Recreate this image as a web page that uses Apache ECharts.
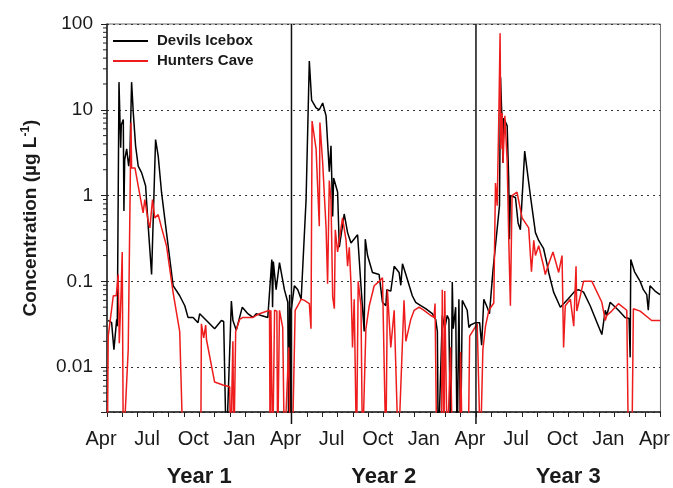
<!DOCTYPE html>
<html>
<head>
<meta charset="utf-8">
<script src="https://cdn.jsdelivr.net/npm/echarts@6/dist/echarts.min.js"></script>
<style>
html,body{margin:0;padding:0;background:#fff;}
#chart{width:673px;height:488px;}
</style>
</head>
<body>
<div id="chart"></div>
<script>
// ---- data ----
var DROP = 0.001; // non-detect, plotted below the axis minimum
var seriesNames = ['Devils Icebox', 'Hunters Cave'];
var xTickLabels = ['Apr','Jul','Oct','Jan','Apr','Jul','Oct','Jan','Apr','Jul','Oct','Jan','Apr'];
var yearLabels = ['Year 1','Year 2','Year 3'];
var yearDividers = [12, 24];
var yMinorTicks = [0.004,0.005,0.006,0.007,0.008,0.009,
  0.02,0.03,0.04,0.05,0.06,0.07,0.08,0.09,
  0.2,0.3,0.4,0.5,0.6,0.7,0.8,0.9,
  2,3,4,5,6,7,8,9,
  20,30,40,50,60,70,80,90];

// months since April 1 of Year 1
var devilsMonths = [0.08,0.30,0.45,0.63,0.67,0.78,0.89,0.93,1.06,1.10,1.15,1.28,1.41,1.49,1.60,1.71,1.86,2.03,2.25,2.35,2.51,2.68,2.90,3.16,3.33,3.55,3.87,4.30,4.73,5.06,5.27,5.60,5.92,6.03,6.47,7.00,7.44,7.59,7.76,8.09,8.19,8.41,8.80,9.16,9.49,9.71,10.03,10.46,10.72,10.77,10.82,11.00,11.22,11.54,11.76,11.82,11.88,11.94,11.98,
  12.19,12.41,12.63,12.95,13.16,13.31,13.60,13.81,14.03,14.25,14.46,14.57,14.68,14.74,15.00,15.11,15.43,15.65,15.87,16.30,16.52,16.73,16.80,16.95,17.27,17.70,17.92,18.14,18.20,18.46,18.68,19.00,19.11,19.22,19.44,19.86,20.08,20.41,20.73,21.16,21.38,21.49,21.55,21.81,21.97,22.13,22.24,22.35,22.46,22.52,22.57,22.68,22.78,22.89,23.00,23.11,23.43,23.54,23.65,23.97,
  24.24,24.37,24.51,24.73,24.88,25.10,25.53,25.60,25.66,25.70,25.75,25.81,26.03,26.13,26.18,26.24,26.35,26.57,26.74,26.89,27.17,27.54,27.87,28.08,28.40,28.62,28.73,29.05,29.49,30.02,30.46,30.67,31.00,31.43,31.97,32.19,32.41,32.51,32.73,33.27,33.70,33.96,34.03,34.07,34.31,34.68,34.89,35.11,35.21,35.32,35.65,35.97];
var devilsValues = [0.035,0.033,0.016,0.036,0.030,21,3.6,6.7,7.7,0.66,2.6,3.5,2.2,3.0,21,9.2,3.8,2.2,1.85,1.9,1.3,0.44,0.12,4.5,2.9,1.08,0.37,0.089,0.068,0.052,0.038,0.038,0.033,0.042,0.035,0.028,0.035,0.034,DROP,0.059,0.035,0.027,0.05,0.042,0.038,0.042,0.04,0.038,0.18,0.05,0.17,0.08,0.165,0.08,0.057,DROP,0.07,DROP,0.046,
  0.089,0.08,0.062,0.9,37,13,10.5,10,12,8.5,1.9,3.8,0.57,1.6,1.1,0.25,0.61,0.37,0.28,0.35,0.089,0.026,0.31,0.2,0.127,0.12,0.057,0.052,0.08,0.077,0.15,0.127,0.09,0.16,0.12,0.068,0.057,0.052,0.048,0.042,0.036,0.026,DROP,0.04,0.028,0.04,0.036,DROP,0.098,0.028,0.028,0.05,DROP,0.062,DROP,0.06,0.046,0.029,0.031,0.033,
  0.033,0.018,0.062,0.05,0.042,0.13,0.76,24,11,7.7,2.4,8,6.5,1.55,0.31,1.0,1.0,0.95,0.48,0.4,3.3,1.0,0.37,0.3,0.24,0.16,0.127,0.075,0.05,0.063,0.078,0.08,0.075,0.052,0.03,0.024,0.046,0.04,0.057,0.046,0.038,0.037,0.013,0.18,0.13,0.1,0.08,0.07,0.046,0.089,0.077,0.07];

var huntersMonths = [0.02,0.08,0.41,0.60,0.73,0.80,0.91,0.99,1.06,1.13,1.38,1.56,1.60,1.82,2.03,2.35,2.46,2.68,2.79,2.96,3.11,3.33,3.55,3.87,4.30,4.73,4.95,6.10,6.14,6.21,6.29,6.42,6.47,7.00,7.54,7.98,8.04,8.19,8.25,8.37,8.63,8.84,9.49,9.92,10.57,10.61,10.66,10.78,10.90,11.05,11.10,11.22,11.43,11.54,11.82,11.91,12.05,
  12.24,12.41,12.63,12.84,13.16,13.27,13.34,13.60,13.81,13.85,14.03,14.25,14.35,14.46,14.57,14.68,14.79,14.85,15.00,15.11,15.32,15.55,15.65,15.76,15.87,15.97,16.08,16.23,16.34,16.52,16.62,16.73,16.84,17.06,17.38,17.70,17.92,18.14,18.24,18.46,18.68,18.95,19.32,19.44,19.76,19.98,20.30,20.62,21.06,21.27,21.34,21.38,21.45,21.60,21.75,21.81,21.92,21.97,22.13,22.35,22.46,22.95,23.00,23.11,23.50,23.59,
  24.08,24.29,24.39,24.45,24.62,24.84,25.16,25.27,25.38,25.49,25.57,25.62,25.70,25.76,25.88,26.03,26.13,26.24,26.35,26.67,27.00,27.43,27.61,27.76,27.87,28.08,28.40,28.51,28.73,29.01,29.38,29.60,29.70,29.81,30.14,30.36,30.51,30.56,31.00,31.54,32.19,32.41,32.51,32.83,33.27,33.81,33.92,34.03,34.14,34.24,34.68,35.43,35.97];
var huntersValues = [DROP,0.023,0.068,0.068,0.12,0.019,0.068,0.22,DROP,DROP,0.016,7.1,2.1,2.1,1.3,0.63,0.9,0.5,0.42,0.9,0.55,0.6,0.42,0.26,0.074,0.026,DROP,DROP,0.032,0.032,0.022,0.031,0.021,0.0067,0.0062,0.0059,DROP,0.02,DROP,0.026,0.036,0.038,0.038,0.042,0.046,DROP,0.046,DROP,0.046,0.045,DROP,0.046,0.029,DROP,0.017,DROP,DROP,
  0.046,0.052,0.062,0.06,0.055,0.028,7.4,3.5,0.44,7.1,2.4,0.42,0.094,1.5,0.9,0.066,0.048,0.4,0.22,0.3,0.55,0.3,0.15,0.25,0.094,0.017,0.062,DROP,0.1,0.052,DROP,DROP,0.028,0.052,0.089,0.1,0.11,DROP,0.08,0.017,0.046,DROP,0.06,0.02,0.036,0.046,0.05,0.046,0.04,0.038,0.055,0.012,DROP,DROP,DROP,0.08,DROP,0.077,DROP,0.017,DROP,DROP,0.015,DROP,DROP,0.023,
  0.032,DROP,DROP,0.016,0.03,0.046,0.056,1.4,0.76,9,78,3.5,9.2,2.4,8.5,2.5,0.33,0.052,1.0,1.1,0.55,0.42,0.13,0.3,0.2,0.26,0.15,0.12,0.16,0.22,0.127,0.2,0.017,0.052,0.062,0.03,0.15,0.045,0.1,0.1,0.057,0.035,0.04,0.045,0.055,0.046,DROP,DROP,DROP,0.048,0.045,0.035,0.035];

// ---- chart ----
function zip(a, b) { return a.map(function (v, i) { return [v, b[i]]; }); }
var FONT = '"Liberation Sans", Arial, Helvetica, sans-serif';
var X_MIN = 0, X_MAX = 36, Y_MIN = 0.003, Y_MAX = 100;

var chart = echarts.init(document.getElementById('chart'), null, {renderer: 'canvas'});
chart.setOption({
  animation: false,
  backgroundColor: '#ffffff',
  textStyle: {fontFamily: FONT},
  grid: {left: 107, right: 11, top: 24, bottom: 75, show: true, borderColor: '#6a6a6a', borderWidth: 1, backgroundColor: 'transparent'},
  legend: {
    data: seriesNames,
    orient: 'vertical', left: 108, top: 27,
    icon: 'rect', itemWidth: 35, itemHeight: 2, itemGap: 2,
    textStyle: {fontFamily: FONT, fontSize: 15, fontWeight: 'bold', color: '#1a1a1a', padding: [0, 0, 0, 4], lineHeight: 18}
  },
  xAxis: [{
    type: 'value', min: X_MIN, max: X_MAX, interval: 1,
    axisLine: {show: true, onZero: false, lineStyle: {color: '#222', width: 1.5}},
    axisTick: {show: true, length: 5, lineStyle: {color: '#222', width: 1}},
    splitLine: {show: false},
    axisLabel: {
      fontFamily: FONT, fontSize: 20, color: '#1a1a1a', margin: 17, padding: [0, 12, 0, 0],
      showMinLabel: true, showMaxLabel: true,
      formatter: function (v) { return (Math.round(v) % 3 === 0) ? xTickLabels[Math.round(v) / 3] : ''; }
    }
  }, {
    type: 'value', min: X_MIN, max: X_MAX, interval: 6, position: 'bottom', offset: 40,
    axisLine: {show: false}, axisTick: {show: false}, splitLine: {show: false},
    axisLabel: {
      fontFamily: FONT, fontSize: 22, fontWeight: 'bold', color: '#1a1a1a', margin: 14,
      formatter: function (v) { var k = Math.round(v); return (k % 12 === 6) ? yearLabels[(k - 6) / 12] : ''; }
    }
  }],
  yAxis: {
    type: 'log', logBase: 10, min: Y_MIN, max: Y_MAX,
    name: '{a|Concentration (µg L}{s|-1}{a|)}',
    nameLocation: 'middle', nameGap: 66, nameRotate: 90,
    nameTextStyle: {
      rich: {
        a: {fontFamily: FONT, fontSize: 19, fontWeight: 'bold', color: '#1a1a1a'},
        s: {fontFamily: FONT, fontSize: 12, fontWeight: 'bold', color: '#1a1a1a', padding: [0, 0, 9, 0]}
      }
    },
    axisLine: {show: true, onZero: false, lineStyle: {color: '#222', width: 1.5}},
    axisTick: {show: true, length: 6, lineStyle: {color: '#222', width: 1}},
    axisLabel: {
      fontFamily: FONT, fontSize: 19, color: '#1a1a1a', margin: 14,
      formatter: function (v) {
        var l = Math.log10(v);
        if (Math.abs(l - Math.round(l)) > 1e-6) return '';
        var r = Math.round(l);
        return r >= 0 ? String(Math.pow(10, r)) : Math.pow(10, r).toFixed(-r);
      }
    },
    splitLine: {show: true, lineStyle: {color: '#333', width: 1, type: [2, 4]}}
  },
  series: [{
    name: seriesNames[0], type: 'line', xAxisIndex: 0,
    data: zip(devilsMonths, devilsValues),
    symbol: 'none', showSymbol: false, clip: true,
    lineStyle: {color: '#000000', width: 1.5}, itemStyle: {color: '#000000'}, z: 3
  }, {
    name: seriesNames[1], type: 'line', xAxisIndex: 0,
    data: zip(huntersMonths, huntersValues),
    symbol: 'none', showSymbol: false, clip: true,
    lineStyle: {color: '#ee1c1c', width: 1.5}, itemStyle: {color: '#ee1c1c'}, z: 4
  }, {
    name: 'minorTicks', type: 'custom', xAxisIndex: 0, clip: false, silent: true,
    data: yMinorTicks.map(function (v) { return [X_MIN, v]; }),
    renderItem: function (params, api) {
      var p = api.coord([X_MIN, api.value(1)]);
      return {type: 'line', shape: {x1: p[0] - 4, y1: p[1], x2: p[0], y2: p[1]}, style: {stroke: '#222', lineWidth: 1}};
    }, z: 5
  }, {
    name: 'dividers', type: 'custom', xAxisIndex: 0, clip: false, silent: true,
    data: yearDividers.map(function (v) { return [v, Y_MAX]; }),
    renderItem: function (params, api) {
      var t = api.coord([api.value(0), Y_MAX]);
      var b = api.coord([api.value(0), Y_MIN]);
      return {type: 'line', shape: {x1: t[0], y1: t[1], x2: b[0], y2: b[1] + 12}, style: {stroke: '#111', lineWidth: 1.5}};
    }, z: 6
  }]
});
</script>
</body>
</html>
